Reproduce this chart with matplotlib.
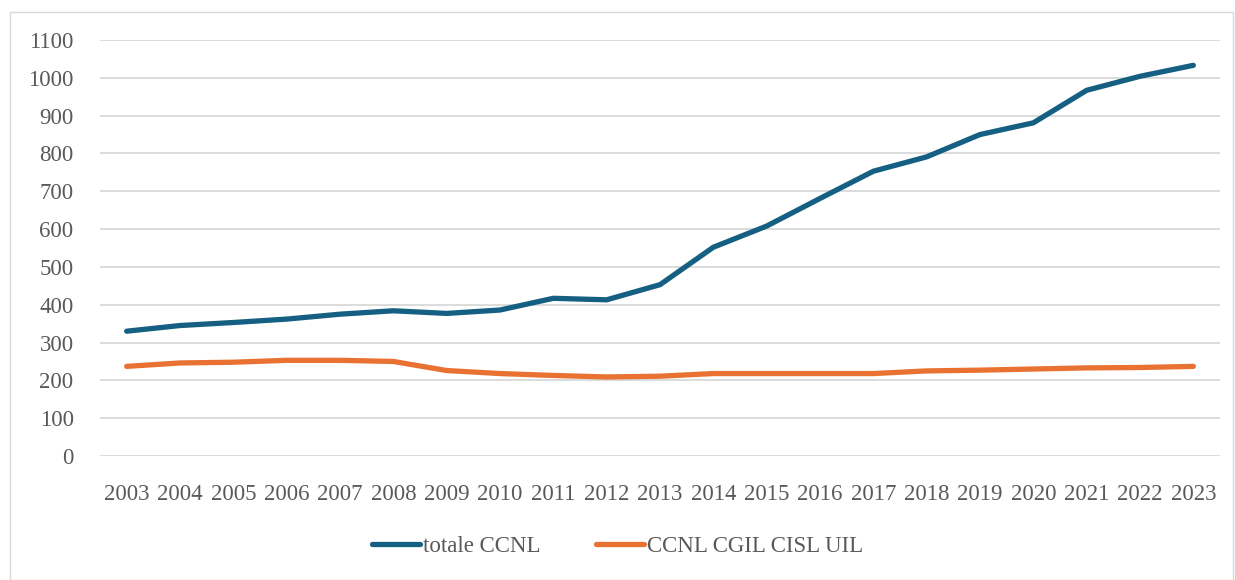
import matplotlib
matplotlib.use('Agg')
import matplotlib.pyplot as plt
from matplotlib.patches import Rectangle

years = list(range(2003, 2024))
totale_ccnl = [330, 345, 353, 362, 375, 384, 377, 386, 417, 413, 453,
               552, 608, 681, 753, 791, 850, 881, 967, 1004, 1033]
ccnl_confederali = [237, 246, 248, 253, 253, 250, 226, 218, 213, 209, 211,
                    218, 218, 218, 218, 225, 227, 230, 233, 234, 237]
y_ticks = list(range(0, 1200, 100))

plt.rcParams['font.family'] = ['Liberation Serif', 'DejaVu Serif']
text_col = '#595959'

fig = plt.figure(figsize=(12.35, 5.8), dpi=100)
fig.patches.append(Rectangle((10 / 1235, 0), 1 - 12 / 1235, 1 - 12 / 580,
                             transform=fig.transFigure, fill=False,
                             edgecolor='#d9d9d9', linewidth=1))
ax = fig.add_axes([100 / 1235, 1 - 456 / 580, 1120 / 1235, 416 / 580])

ax.plot(years, totale_ccnl, color='#156082', linewidth=3.8,
        solid_capstyle='round', label='totale CCNL')
ax.plot(years, ccnl_confederali, color='#E97132', linewidth=3.8,
        solid_capstyle='round', label='CCNL CGIL CISL UIL')

ax.set_xlim(2002.5, 2023.5)
ax.set_ylim(0, 1100)
ax.set_yticks(y_ticks)
ax.set_xticks(years)
ax.set_xticklabels([str(y) for y in years])
ax.grid(axis='y', color='#d9d9d9', linewidth=1.3)
ax.set_axisbelow(True)
for s in ax.spines.values():
    s.set_visible(False)
ax.tick_params(length=0, labelsize=16.5, colors=text_col)
ax.tick_params(axis='x', pad=20)
ax.tick_params(axis='y', pad=19)

leg = fig.legend(loc='center', bbox_to_anchor=(0.5, 1 - 546 / 580), ncol=2,
                 frameon=False, fontsize=16.5, handlelength=2.1,
                 handletextpad=0.15, columnspacing=2.4)
for t in leg.get_texts():
    t.set_color(text_col)

fig.savefig('out.png', dpi=100)
